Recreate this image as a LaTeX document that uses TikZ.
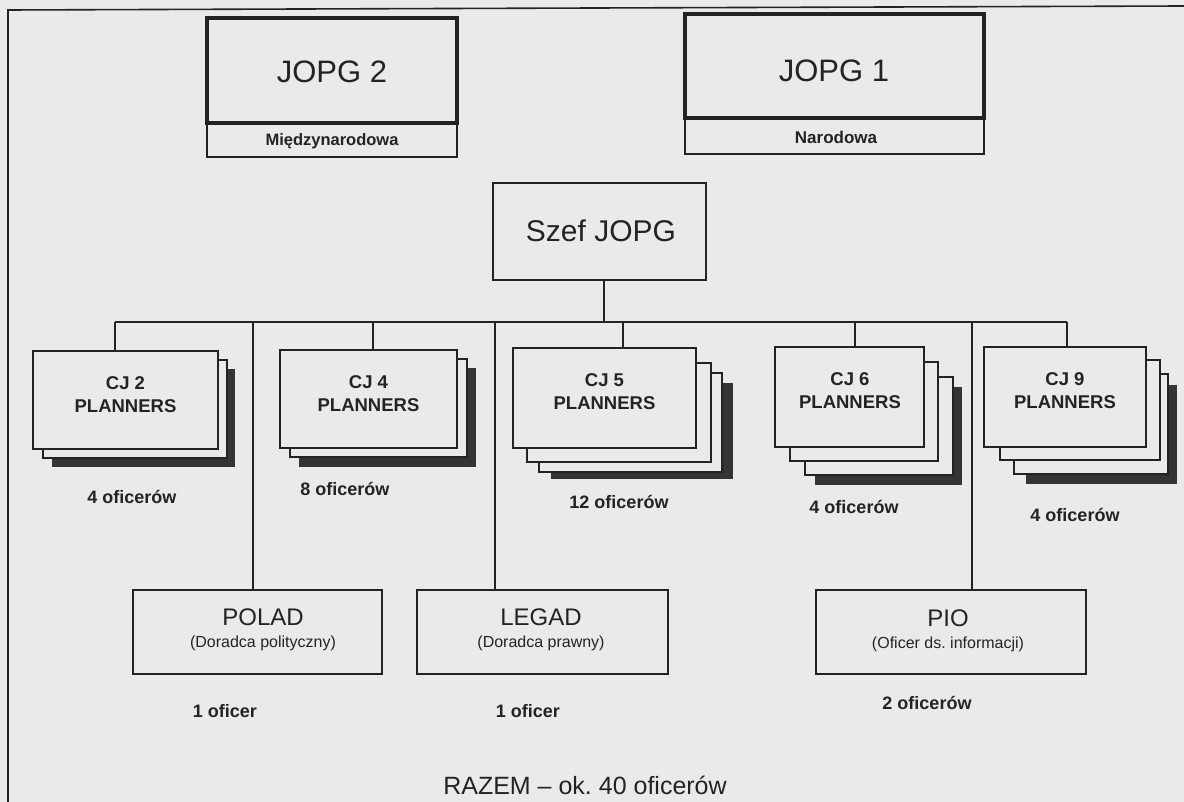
\documentclass[tikz,border=0pt]{standalone}
\usepackage{fontspec}
\setmainfont{Liberation Sans}
\usetikzlibrary{fit}
\definecolor{bg}{RGB}{234,234,232}
\definecolor{ink}{RGB}{35,35,35}
\definecolor{shade}{RGB}{52,52,52}
\newcommand{\fs}[1]{\fontsize{#1}{#1}\selectfont}
\frenchspacing
\tikzset{
  thickbox/.style={draw=ink, fill=bg, inner sep=0pt, line width=3.4pt},
  subbox/.style={draw=ink, fill=bg, inner sep=0pt, line width=1.3pt},
  midbox/.style={draw=ink, fill=bg, inner sep=0pt, line width=2.4pt},
  layer/.style={draw=ink, fill=bg, inner sep=0pt, line width=2pt},
  shadowbox/.style={fill=shade, draw=none, inner sep=0pt},
  conn/.style={draw=ink, line width=1.3pt},
  frameline/.style={draw=ink, line width=1.6pt},
  big/.style={text=ink, inner sep=0pt, font=\fs{31}},
  small/.style={text=ink, inner sep=0pt, font=\bfseries\fs{16.5}},
  cjtext/.style={text=ink, inner sep=0pt, align=center, font=\bfseries\fontsize{18.5}{23}\selectfont},
  count/.style={text=ink, inner sep=0pt, font=\bfseries\fs{18}},
  advname/.style={text=ink, inner sep=0pt, font=\fs{24}},
  advsub/.style={text=ink, inner sep=0pt, font=\fs{16}},
}
\begin{document}
\begin{tikzpicture}[x=1pt,y=-1pt]
\useasboundingbox (0,0) rectangle (1184,802);
\fill[bg] (0,0) rectangle (1184,802);

% frame
\coordinate (fbl) at (8,802);
\coordinate (ftl) at (8,10);
\coordinate (ftr) at (1184,6);
\draw[frameline] (fbl) -- (ftl) -- (ftr);

% JOPG boxes
\node[subbox, fit={(207,123) (457,157)}] (mn) {};
\node[thickbox, fit={(207,18) (457,123)}] (jopg2) {};
\node[big] (jopg2t) at (332,72) {JOPG 2};
\node[small] (mnt) at (332,141) {Międzynarodowa};

\node[subbox, fit={(685,118) (984,154)}] (nar) {};
\node[thickbox, fit={(685,14) (984,118)}] (jopg1) {};
\node[big] (jopg1t) at (834,71) {JOPG 1};
\node[small, font=\bfseries\fs{17}] (nart) at (836,137) {Narodowa};

% Szef
\node[midbox, fit={(493,183) (706,280)}] (szef) {};
\node[big, font=\fs{30}] (szeft) at (601,231) {Szef JOPG};

% CJ 2
\node[shadowbox, fit={(52,369) (235,467)}] (cj2s) {};
\node[layer, fit={(43,360) (227,458)}] (cj2b) {};
\node[layer, fit={(33,351) (218,449)}] (cj2) {};
\node[cjtext] (cj2t) at (125.5,395) {CJ 2\\PLANNERS};

% CJ 4
\node[shadowbox, fit={(299,368) (476,467)}] (cj4s) {};
\node[layer, fit={(290,359) (467,457)}] (cj4b) {};
\node[layer, fit={(280,350) (457,448)}] (cj4) {};
\node[cjtext] (cj4t) at (368.5,394) {CJ 4\\PLANNERS};

% CJ 5
\node[shadowbox, fit={(551,383) (733,479)}] (cj5s) {};
\node[layer, fit={(539,373) (722,472)}] (cj5c) {};
\node[layer, fit={(527,363) (711,462)}] (cj5b) {};
\node[layer, fit={(513,348) (696,448)}] (cj5) {};
\node[cjtext] (cj5t) at (604.5,392) {CJ 5\\PLANNERS};

% CJ 6
\node[shadowbox, fit={(815,387) (962,485)}] (cj6s) {};
\node[layer, fit={(805,377) (953,475)}] (cj6c) {};
\node[layer, fit={(790,362) (938,461)}] (cj6b) {};
\node[layer, fit={(775,347) (924,447)}] (cj6) {};
\node[cjtext] (cj6t) at (850,391) {CJ 6\\PLANNERS};

% CJ 9
\node[shadowbox, fit={(1026,385) (1177,484)}] (cj9s) {};
\node[layer, fit={(1014,374) (1168,474)}] (cj9c) {};
\node[layer, fit={(1000,360) (1160,460)}] (cj9b) {};
\node[layer, fit={(984,347) (1146,447)}] (cj9) {};
\node[cjtext] (cj9t) at (1065,391) {CJ 9\\PLANNERS};

% counts
\node[count] (c2) at (132,497) {4 oficerów};
\node[count] (c4) at (345,489) {8 oficerów};
\node[count] (c5) at (619,502) {12 oficerów};
\node[count] (c6) at (854,507) {4 oficerów};
\node[count] (c9) at (1075,515) {4 oficerów};

% advisers
\node[midbox, fit={(133,590) (382,674)}] (polad) {};
\node[advname] (poladt) at (263,617) {POLAD};
\node[advsub] (polads) at (263,643) {(Doradca polityczny)};

\node[midbox, fit={(417,590) (668,674)}] (legad) {};
\node[advname] (legadt) at (541,617) {LEGAD};
\node[advsub] (legads) at (541,643) {(Doradca prawny)};

\node[midbox, fit={(816,590) (1086,674)}] (pio) {};
\node[advname] (piot) at (948,618) {PIO};
\node[advsub] (pios) at (948,644) {(Oficer ds. informacji)};

\node[count] (cp1) at (225,711) {1 oficer};
\node[count] (cp2) at (528,711) {1 oficer};
\node[count] (cp3) at (927,703) {2 oficerów};

\node[text=ink, inner sep=0pt, font=\fs{25}] (razem) at (585,785) {RAZEM – ok. 40 oficerów};

% connectors
\coordinate (j0) at (604,322);
\coordinate (hl) at (115,322);
\coordinate (hr) at (1067,322);
\coordinate (d4) at (373,322);
\coordinate (d5) at (623,322);
\coordinate (d6) at (855,322);
\coordinate (p1) at (253,322);
\coordinate (p2) at (495,322);
\coordinate (p3) at (972,322);
\draw[conn] (j0 |- szef.south) -- (j0);
\draw[conn] (hl) -- (hr);
\draw[conn] (hl) -- (hl |- cj2.north);
\draw[conn] (d4) -- (d4 |- cj4.north);
\draw[conn] (d5) -- (d5 |- cj5.north);
\draw[conn] (d6) -- (d6 |- cj6.north);
\draw[conn] (hr) -- (hr |- cj9.north);
\draw[conn] (p1) -- (p1 |- polad.north);
\draw[conn] (p2) -- (p2 |- legad.north);
\draw[conn] (p3) -- (p3 |- pio.north);
\end{tikzpicture}
\end{document}
